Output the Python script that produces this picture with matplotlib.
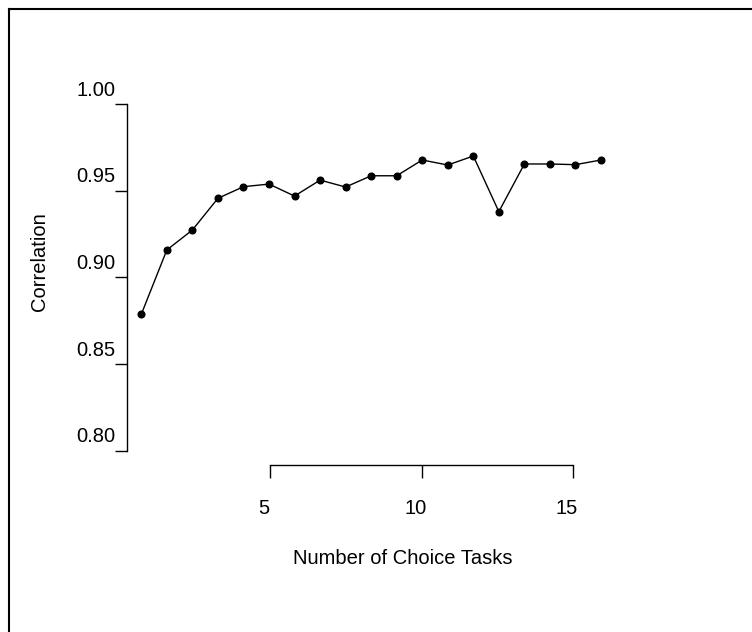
import matplotlib
matplotlib.use("Agg")
import matplotlib.pyplot as plt
from matplotlib.transforms import ScaledTranslation
from matplotlib.lines import Line2D

plt.rcParams['font.family'] = ['Liberation Sans', 'DejaVu Sans']

# data
tasks = list(range(1, 20))
correlation = [0.8787, 0.9158, 0.9273, 0.9456, 0.9523, 0.9538, 0.9469, 0.9561,
               0.9521, 0.9586, 0.9586, 0.9677, 0.9648, 0.9700, 0.9379, 0.9654,
               0.9654, 0.9650, 0.9677]
yticks = [0.80, 0.85, 0.90, 0.95, 1.00]
xticks = [5, 10, 15]

W, H = 752, 632
fig = plt.figure(figsize=(W / 100, H / 100), dpi=100)


def box(left, top, right, bottom):
    # pixel box (from top-left) -> figure fraction rect
    return [left / W, 1 - bottom / H, (right - left) / W, (bottom - top) / H]


# outer frame (runs off right and bottom edge)
fig.add_artist(Line2D([9 / W, 1.0], [1 - 9 / H, 1 - 9 / H], color='black', lw=1.5))
fig.add_artist(Line2D([9 / W, 9 / W], [1 - 9 / H, 0.0], color='black', lw=1.5))

# main plot area
ax = fig.add_axes(box(126.7, 104, 620, 450.7))
ax.plot(tasks, correlation, color='black', lw=1.0, marker='o', markersize=4.8)
ax.set_xlim(0.428, 19.744)
ax.set_ylim(0.80, 1.00)
for s in ['top', 'right', 'bottom']:
    ax.spines[s].set_visible(False)
ax.spines['left'].set_linewidth(1.0)
ax.set_xticks([])
ax.set_yticks(yticks)
ax.set_yticklabels([])
ax.tick_params(axis='y', length=9, width=1.0)
off = ScaledTranslation(-11.5 / 100, 14 / 100, fig.dpi_scale_trans)
for v in yticks:
    ax.text(0, v, f"{v:.2f}", transform=ax.get_yaxis_transform() + off,
            ha='right', va='center', fontsize=14.5)
ax.patch.set_visible(False)

# separate bottom axis
bx = fig.add_axes(box(270, 455, 573.3, 465))
bx.set_xlim(5, 15)
for s in ['top', 'right', 'left']:
    bx.spines[s].set_visible(False)
bx.spines['bottom'].set_linewidth(1.0)
bx.set_yticks([])
bx.set_xticks(xticks)
bx.set_xticklabels([])
bx.tick_params(axis='x', length=9, width=1.0)
offx = ScaledTranslation(-6.5 / 100, -43 / 100, fig.dpi_scale_trans)
for v in xticks:
    bx.text(v, 0, str(v), transform=bx.get_xaxis_transform() + offx,
            ha='center', va='center', fontsize=14.5)
bx.patch.set_visible(False)

fig.text(402.5 / W, 1 - 558 / H, "Number of Choice Tasks", ha='center', va='center', fontsize=14.5)
fig.text(40 / W, 1 - 262 / H, "Correlation", ha='center', va='center', rotation=90, fontsize=14.5)

fig.savefig("out.png", dpi=100)
